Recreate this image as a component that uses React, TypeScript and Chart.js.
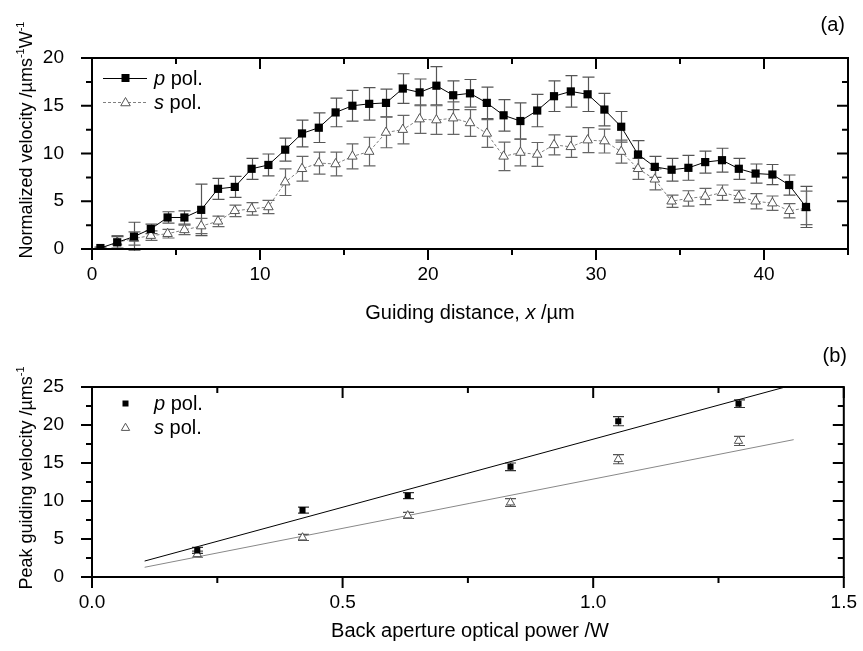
import React, { useEffect, useRef } from 'react';
import { Chart, registerables } from 'chart.js';
Chart.register(...registerables);

const FONT = '"Liberation Sans", Arial, Helvetica, sans-serif';

// ---------- Panel (a) data ----------
const distance = [0.5, 1.5, 2.5, 3.5, 4.5, 5.5, 6.5, 7.5, 8.5, 9.5, 10.5, 11.5, 12.5, 13.5, 14.5, 15.5, 16.5, 17.5, 18.5, 19.5, 20.5, 21.5, 22.5, 23.5, 24.5, 25.5, 26.5, 27.5, 28.5, 29.5, 30.5, 31.5, 32.5, 33.5, 34.5, 35.5, 36.5, 37.5, 38.5, 39.5, 40.5, 41.5, 42.5];
const pVelocity = [0.1, 0.7, 1.3, 2.1, 3.3, 3.3, 4.1, 6.3, 6.5, 8.4, 8.8, 10.4, 12.1, 12.7, 14.3, 15.0, 15.2, 15.3, 16.8, 16.4, 17.1, 16.1, 16.3, 15.3, 14.0, 13.4, 14.5, 16.0, 16.5, 16.2, 14.6, 12.8, 9.9, 8.6, 8.3, 8.5, 9.1, 9.3, 8.4, 7.9, 7.8, 6.7, 4.4];
const pError = [0.1, 0.6, 1.5, 0.5, 0.6, 0.7, 2.7, 1.1, 1.1, 1.1, 1.15, 1.2, 1.4, 1.55, 1.5, 1.6, 1.7, 1.45, 1.55, 1.4, 2.0, 1.5, 1.45, 1.65, 1.65, 1.9, 1.7, 1.6, 1.65, 1.8, 1.7, 1.6, 1.45, 1.1, 1.2, 1.3, 1.15, 1.25, 1.1, 1.0, 1.05, 1.05, 2.15];
const sVelocity = [null, 0.7, 1.1, 1.4, 1.6, 2.0, 2.4, 2.9, 4.0, 4.2, 4.4, 7.0, 8.4, 9.0, 8.9, 9.7, 10.2, 12.2, 12.5, 13.6, 13.5, 13.7, 13.2, 12.1, 9.7, 10.1, 9.9, 10.9, 10.7, 11.4, 11.3, 10.2, 8.4, 7.3, 5.0, 5.3, 5.5, 5.9, 5.5, 5.0, 4.8, 4.0, 4.3];
const sError = [null, 0.7, 0.7, 0.5, 0.45, 0.5, 0.8, 0.55, 0.6, 0.65, 0.7, 1.4, 1.3, 1.15, 1.25, 1.3, 1.5, 1.6, 1.5, 1.5, 1.5, 1.7, 1.4, 1.45, 1.5, 1.4, 1.25, 1.05, 1.1, 1.3, 1.25, 1.2, 1.1, 1.1, 0.65, 0.8, 0.85, 0.8, 0.65, 0.8, 0.75, 0.75, 1.75];
const distanceTicks = [0, 10, 20, 30, 40];

// ---------- Panel (b) data ----------
const power = [0.21, 0.42, 0.63, 0.835, 1.05, 1.29];
const peakP = [3.5, 8.8, 10.7, 14.5, 20.5, 22.8];
const peakPErr = [0.4, 0.4, 0.4, 0.5, 0.6, 0.5];
const peakS = [3.0, 5.2, 8.1, 9.8, 15.5, 17.9];
const peakSErr = [0.4, 0.4, 0.4, 0.5, 0.6, 0.6];
const fitPower = [0.105, 1.4];
const fitP = [2.1, 25.3];
const fitS = [1.28, 18.07];

type Seg = { t: string; i?: boolean; sup?: boolean };

function drawRich(ctx: CanvasRenderingContext2D, segs: Seg[], x: number, y: number, size: number, align: 'left' | 'center' | 'right', rotate = 0) {
  ctx.save();
  ctx.translate(x, y);
  if (rotate) ctx.rotate(rotate);
  const fontFor = (s: Seg) => `${s.i ? 'italic ' : ''}${s.sup ? Math.round(size * 0.62) : size}px ${FONT}`;
  let total = 0;
  const widths = segs.map((s) => {
    ctx.font = fontFor(s);
    const w = ctx.measureText(s.t).width;
    total += w;
    return w;
  });
  let cx = align === 'left' ? 0 : align === 'center' ? -total / 2 : -total;
  ctx.textBaseline = 'alphabetic';
  ctx.textAlign = 'left';
  ctx.fillStyle = '#000';
  const base = size * 0.36;
  segs.forEach((s, k) => {
    ctx.font = fontFor(s);
    ctx.fillText(s.t, cx, s.sup ? base - size * 0.45 : base);
    cx += widths[k];
  });
  ctx.restore();
}

function drawSquare(ctx: CanvasRenderingContext2D, x: number, y: number, side: number) {
  ctx.fillStyle = '#000';
  ctx.fillRect(x - side / 2, y - side / 2, side, side);
}
function drawTriangle(ctx: CanvasRenderingContext2D, x: number, y: number, r: number, color: string) {
  ctx.beginPath();
  ctx.moveTo(x, y - r);
  ctx.lineTo(x + r * 0.866, y + r * 0.5);
  ctx.lineTo(x - r * 0.866, y + r * 0.5);
  ctx.closePath();
  ctx.fillStyle = '#fff';
  ctx.fill();
  ctx.strokeStyle = color;
  ctx.lineWidth = 1;
  ctx.stroke();
}

type ErrSpec = { xs: number[]; ys: (number | null)[]; es: (number | null)[]; color: string; cap: number };

function makeDecor(o: {
  xMinor: number; yMinor: number; xMajor: number; yMajor: number;
  errors: ErrSpec[];
  extra: (ctx: CanvasRenderingContext2D, chart: any) => void;
}) {
  return {
    id: 'decor',
    beforeDatasetsDraw(chart: any) {
      const ctx = chart.ctx as CanvasRenderingContext2D;
      const xs = chart.scales.x, ys = chart.scales.y;
      const ca = chart.chartArea;
      ctx.save();
      ctx.beginPath();
      ctx.rect(ca.left, ca.top - 2, ca.right - ca.left, ca.bottom - ca.top + 4);
      ctx.clip();
      o.errors.forEach((e) => {
        ctx.strokeStyle = e.color;
        ctx.lineWidth = 1.2;
        e.xs.forEach((xv, k) => {
          const yv = e.ys[k], ev = e.es[k];
          if (yv == null || ev == null) return;
          const px = Math.round(xs.getPixelForValue(xv)) + 0.5;
          const t = ys.getPixelForValue(yv + ev), b = ys.getPixelForValue(yv - ev);
          ctx.beginPath();
          ctx.moveTo(px, t); ctx.lineTo(px, b);
          ctx.moveTo(px - e.cap / 2, t); ctx.lineTo(px + e.cap / 2, t);
          ctx.moveTo(px - e.cap / 2, b); ctx.lineTo(px + e.cap / 2, b);
          ctx.stroke();
        });
      });
      ctx.restore();
    },
    afterDraw(chart: any) {
      const ctx = chart.ctx as CanvasRenderingContext2D;
      const xs = chart.scales.x, ys = chart.scales.y;
      const { left, right, top, bottom } = chart.chartArea;
      ctx.save();
      ctx.strokeStyle = '#000';
      ctx.lineWidth = 2;
      ctx.lineCap = 'butt';
      ctx.beginPath();
      const eps = 1e-6;
      for (let v = xs.min; v <= xs.max + eps; v += o.xMinor) {
        const major = Math.abs(v / o.xMajor - Math.round(v / o.xMajor)) < 1e-6;
        const len = major ? 11 : 6;
        const px = xs.getPixelForValue(v);
        ctx.moveTo(px, bottom); ctx.lineTo(px, bottom + len);
        ctx.moveTo(px, top); ctx.lineTo(px, top + len);
      }
      for (let v = ys.min; v <= ys.max + eps; v += o.yMinor) {
        const major = Math.abs(v / o.yMajor - Math.round(v / o.yMajor)) < 1e-6;
        const len = major ? 11 : 6;
        const py = ys.getPixelForValue(v);
        ctx.moveTo(left, py); ctx.lineTo(left - len, py);
        ctx.moveTo(right, py); ctx.lineTo(right - len, py);
      }
      ctx.stroke();
      ctx.strokeRect(left, top, right - left, bottom - top);
      ctx.restore();
      ctx.save();
      o.extra(ctx, chart);
      ctx.restore();
    },
  };
}

function baseScales(xMin: number, xMax: number, xStep: number, xCb: (v: number) => string, yMax: number, xHeight: number) {
  const tickFont = { size: 19, family: FONT };
  return {
    x: {
      type: 'linear', min: xMin, max: xMax,
      grid: { display: false }, border: { display: false },
      ticks: { stepSize: xStep, color: '#000', font: tickFont, padding: 6, maxRotation: 0, autoSkip: false, callback: xCb },
      afterFit: (s: any) => { s.height = xHeight; },
    },
    y: {
      type: 'linear', min: 0, max: yMax,
      grid: { display: false }, border: { display: false },
      ticks: { stepSize: 5, color: '#000', font: tickFont, padding: 20, callback: (v: number) => String(v) },
      afterFit: (s: any) => { s.width = 92; },
    },
  };
}

function TopChart() {
  const ref = useRef<HTMLCanvasElement>(null);
  useEffect(() => {
    const pData = distance.map((x, k) => ({ x, y: pVelocity[k] }));
    const sData = distance.map((x, k) => ({ x, y: sVelocity[k] })).filter((d) => d.y != null);
    const chart = new Chart(ref.current!, {
      type: 'scatter',
      data: {
        datasets: [
          { data: pData, showLine: true, borderColor: '#000', borderWidth: 1, pointStyle: 'rect', pointRadius: 5.8, pointBackgroundColor: '#000', pointBorderColor: '#000', pointBorderWidth: 0 },
          { data: sData as any, showLine: true, borderColor: '#808080', borderWidth: 1, borderDash: [3, 2], pointStyle: 'triangle', pointRadius: 5.5, pointBackgroundColor: '#fff', pointBorderColor: '#555', pointBorderWidth: 1 },
        ],
      },
      options: {
        responsive: false, animation: false, events: [],
        layout: { padding: { left: 0, right: 15, top: 58, bottom: 0 } },
        plugins: { legend: { display: false }, tooltip: { enabled: false } },
        scales: baseScales(0, 45, 5, (v: number) => (distanceTicks.includes(v) ? String(v) : ''), 20, 81) as any,
      },
      plugins: [
        makeDecor({
          xMinor: 5, xMajor: 10, yMinor: 2.5, yMajor: 5,
          errors: [
            { xs: distance, ys: pVelocity, es: pError, color: '#555', cap: 12 },
            { xs: distance, ys: sVelocity, es: sError, color: '#666', cap: 12 },
          ],
          extra: (ctx) => {
            // legend
            ctx.strokeStyle = '#000'; ctx.lineWidth = 1;
            ctx.beginPath(); ctx.moveTo(103, 78.5); ctx.lineTo(147, 78.5); ctx.stroke();
            drawSquare(ctx, 125.5, 78, 8);
            ctx.strokeStyle = '#808080'; ctx.setLineDash([3, 2]);
            ctx.beginPath(); ctx.moveTo(103, 102.5); ctx.lineTo(147, 102.5); ctx.stroke();
            ctx.setLineDash([]);
            drawTriangle(ctx, 125.5, 103, 5.5, '#555');
            drawRich(ctx, [{ t: 'p', i: true }, { t: ' pol.' }], 154, 78, 20, 'left');
            drawRich(ctx, [{ t: 's', i: true }, { t: ' pol.' }], 154, 102, 20, 'left');
            // panel label
            drawRich(ctx, [{ t: '(a)' }], 845, 24, 20, 'right');
            // axis titles
            drawRich(ctx, [{ t: 'Guiding distance, ' }, { t: 'x', i: true }, { t: ' /µm' }], 470, 312, 20, 'center');
            drawRich(ctx, [{ t: 'Normalized velocity /µms' }, { t: '-1', sup: true }, { t: 'W' }, { t: '-1', sup: true }], 26, 140, 18, 'center', -Math.PI / 2);
          },
        }) as any,
      ],
    });
    return () => chart.destroy();
  }, []);
  return <canvas ref={ref} width={863} height={330} style={{ position: 'absolute', left: 0, top: 0 }} />;
}

function BottomChart() {
  const ref = useRef<HTMLCanvasElement>(null);
  useEffect(() => {
    const chart = new Chart(ref.current!, {
      type: 'scatter',
      data: {
        datasets: [
          { data: power.map((x, k) => ({ x, y: peakP[k] })), pointStyle: 'rect', pointRadius: 4.3, pointBackgroundColor: '#000', pointBorderColor: '#000', pointBorderWidth: 0 },
          { data: power.map((x, k) => ({ x, y: peakS[k] })), pointStyle: 'triangle', pointRadius: 4.8, pointBackgroundColor: '#fff', pointBorderColor: '#555', pointBorderWidth: 1 },
          { data: fitPower.map((x, k) => ({ x, y: fitP[k] })), showLine: true, pointRadius: 0, borderColor: '#000', borderWidth: 1 },
          { data: fitPower.map((x, k) => ({ x, y: fitS[k] })), showLine: true, pointRadius: 0, borderColor: '#888', borderWidth: 1 },
        ],
      },
      options: {
        responsive: false, animation: false, events: [],
        layout: { padding: { left: 0, right: 15, top: 57, bottom: 0 } },
        plugins: { legend: { display: false }, tooltip: { enabled: false } },
        scales: baseScales(0, 1.5, 0.5, (v: number) => v.toFixed(1), 25, 74) as any,
      },
      plugins: [
        makeDecor({
          xMinor: 0.25, xMajor: 0.5, yMinor: 2.5, yMajor: 5,
          errors: [
            { xs: power, ys: peakP, es: peakPErr, color: '#333', cap: 11 },
            { xs: power, ys: peakS, es: peakSErr, color: '#555', cap: 11 },
          ],
          extra: (ctx) => {
            drawSquare(ctx, 125.5, 73.5, 6);
            drawTriangle(ctx, 125.5, 98, 4.8, '#555');
            drawRich(ctx, [{ t: 'p', i: true }, { t: ' pol.' }], 154, 73, 20, 'left');
            drawRich(ctx, [{ t: 's', i: true }, { t: ' pol.' }], 154, 97, 20, 'left');
            drawRich(ctx, [{ t: '(b)' }], 847, 25, 20, 'right');
            drawRich(ctx, [{ t: 'Back aperture optical power /W' }], 470, 300, 20, 'center');
            drawRich(ctx, [{ t: 'Peak guiding velocity /µms' }, { t: '-1', sup: true }], 26, 148, 18, 'center', -Math.PI / 2);
          },
        }) as any,
      ],
    });
    return () => chart.destroy();
  }, []);
  return <canvas ref={ref} width={863} height={321} style={{ position: 'absolute', left: 0, top: 330 }} />;
}

export default function App() {
  return (
    <div style={{ position: 'absolute', left: 0, top: 0, width: 863, height: 651, background: '#fff' }}>
      <TopChart />
      <BottomChart />
    </div>
  );
}
